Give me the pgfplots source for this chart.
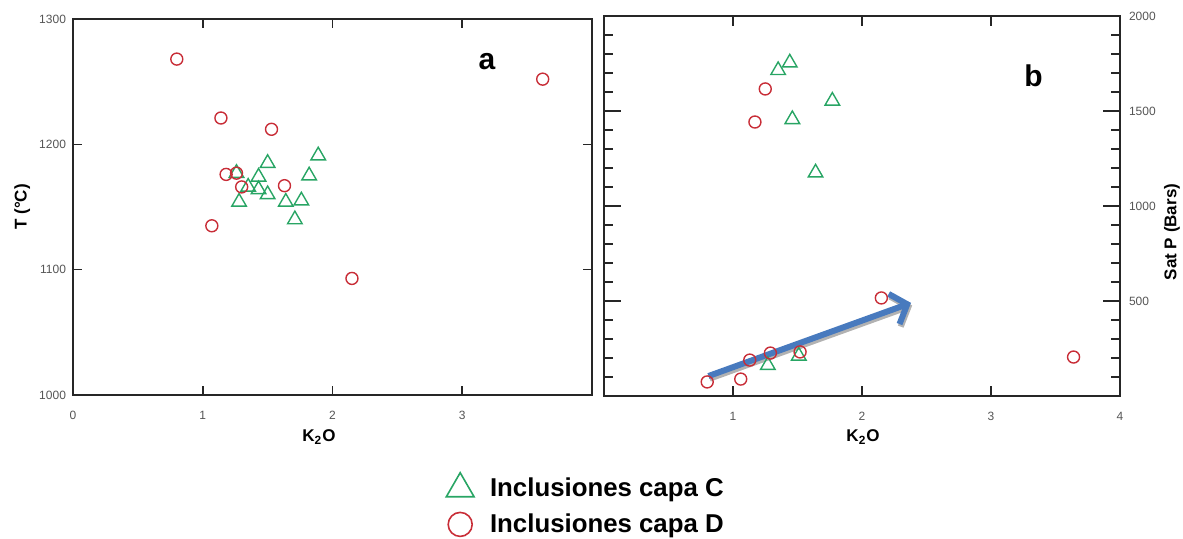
\documentclass[border=0pt]{standalone}
\usepackage{fontspec}
\setmainfont{Liberation Sans}
\usepackage{pgfplots}
\usepackage{pgfplotstable}
\pgfplotsset{compat=1.18}
\usetikzlibrary{arrows.meta}
\definecolor{cred}{RGB}{200,45,55}
\definecolor{cgreen}{RGB}{40,165,100}
\definecolor{cblue}{RGB}{72,122,190}
\definecolor{ctick}{RGB}{85,85,85}

\pgfplotstableread{
x y
1.89 1191
1.82 1175
1.50 1185
1.43 1174
1.26 1177
1.43 1164
1.50 1160
1.28 1154
1.64 1154
1.76 1155
1.71 1140
1.35 1166
}\leftC
\pgfplotstableread{
x y
0.80 1268
1.14 1221
1.53 1212
1.18 1176
1.26 1177
1.30 1166
1.63 1167
1.07 1135
2.15 1093
3.62 1252
}\leftD
\pgfplotstableread{
x y
1.35 1714
1.44 1754
1.77 1553
1.46 1456
1.64 1175
1.27 162
1.51 211
}\rightC
\pgfplotstableread{
x y
0.80 74
1.06 89
1.13 189
1.29 226
1.52 232
1.25 1616
1.17 1442
2.15 516
3.64 205
}\rightD

\begin{document}
\begin{tikzpicture}
\useasboundingbox (0,0) rectangle (591.5pt,269.5pt);
\pgfplotsset{
  common/.style={
    scale only axis, anchor=south west,
    xmin=0, xmax=4,
    axis line style={line width=0.9pt, black!85},
    tick style={line width=0.8pt, black!85},
    /pgf/number format/assume math mode=true,
    /pgf/number format/1000 sep={},
    scaled ticks=false,
    ticklabel style={font=\fontsize{6}{7}\selectfont, text=ctick},
    label style={font=\bfseries\fontsize{8.5}{10}\selectfont},
    xticklabel style={yshift=-4.5pt},
  },
  markC/.style={only marks, mark=triangle, mark size=4.2pt, cgreen, line width=0.7pt, forget plot},
  markD/.style={only marks, mark=o, mark size=3pt, cred, line width=0.7pt, forget plot},
}
\begin{axis}[common, at={(36.5pt,72pt)}, width=259.5pt, height=188pt,
  ymin=1000, ymax=1300, xtick={0,1,2,3}, ytick={1000,1100,1200,1300},
  major tick length=4.5pt,
  xlabel={K\textsubscript{2}O}, ylabel={T (°C)},
  xlabel style={at={(axis description cs:0.474,-0.112)}, anchor=center},
  ylabel style={at={(axis description cs:-0.098,0.5)}, anchor=center},
  legend style={at={(axis description cs:0.707,-0.195)}, anchor=north west,
    draw=none, fill=none, font=\bfseries\fontsize{12.9}{14}\selectfont, row sep=3pt},
  legend cell align=left,
]
\addplot[markC] table {\leftC};
\addplot[markD] table {\leftD};
\addlegendimage{only marks, mark=triangle, mark size=8pt, cgreen, line width=0.8pt}
\addlegendentry{\hspace*{6pt}Inclusiones capa C}
\addlegendimage{only marks, mark=o, mark size=6pt, cred, line width=0.8pt}
\addlegendentry{\hspace*{6pt}Inclusiones capa D}
\node[font=\bfseries\fontsize{15}{16}\selectfont] at (axis cs:3.19,1266) {a};
\end{axis}

\begin{axis}[common, at={(302pt,71.5pt)}, width=258pt, height=190pt,
  ymin=0, ymax=2000, xtick={1,2,3,4},
  ytick={0,500,1000,1500,2000}, yticklabels={,500,1000,1500,2000},
  minor y tick num=4,
  yticklabel pos=right, major tick length=8.5pt, minor tick length=4.5pt,
  xtick style={/pgfplots/major tick length=5pt},
  xlabel={K\textsubscript{2}O}, ylabel={Sat P (Bars)},
  xlabel style={at={(axis description cs:0.502,-0.108)}, anchor=center},
  ylabel style={at={(axis description cs:1.1008,0.4316)}, anchor=center},
  yticklabel style={xshift=1pt},
]
\addplot[markC] table {\rightC};
\addplot[markD] table {\rightD};
\addplot[gray!60, line width=3pt, -{Straight Barb[length=7pt,width=16pt,line width=3pt]}, forget plot, shift={(0.6pt,-1.3pt)}] coordinates {(0.81,105) (2.38,490)};
\addplot[cblue, line width=3pt, -{Straight Barb[length=7pt,width=16pt,line width=3pt]}, forget plot] coordinates {(0.81,105) (2.38,490)};
\node[font=\bfseries\fontsize{15}{16}\selectfont] at (axis cs:3.33,1684) {b};
\end{axis}
\end{tikzpicture}
\end{document}
